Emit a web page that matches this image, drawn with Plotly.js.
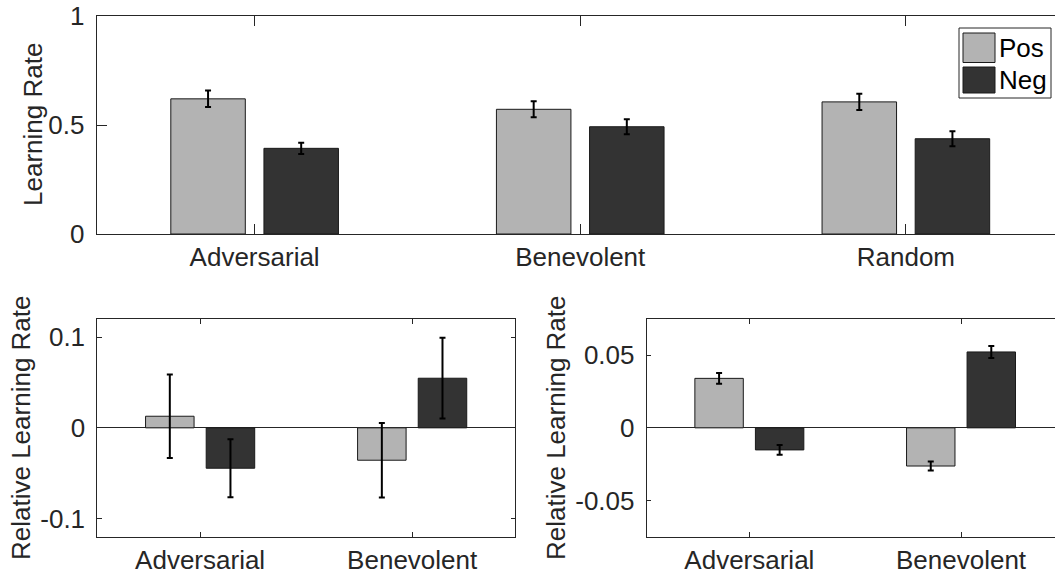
<!DOCTYPE html>
<html>
<head>
<meta charset="utf-8">
<script src="https://cdn.plot.ly/plotly-3.0.1.min.js"></script>
<style>
  html, body { margin: 0; padding: 0; background: #fff; }
  #chart { width: 1055px; height: 577px; }
</style>
</head>
<body>
<div id="chart"></div>
<script>
// Learning rates per environment (top panel)
const categoriesTop = ['Adversarial', 'Benevolent', 'Random'];
const posTop = [0.620, 0.572, 0.606];
const posTopErr = [0.038, 0.037, 0.037];
const negTop = [0.393, 0.492, 0.437];
const negTopErr = [0.026, 0.034, 0.034];

// Relative learning rates (bottom panels)
const categoriesBottom = ['Adversarial', 'Benevolent'];
const posLeft = [0.0128, -0.0357];
const posLeftErr = [0.046, 0.041];
const negLeft = [-0.0445, 0.0547];
const negLeftErr = [0.032, 0.0445];

const posRight = [0.0341, -0.0263];
const posRightErr = [0.0037, 0.0031];
const negRight = [-0.0152, 0.0523];
const negRightErr = [0.0033, 0.0041];

const seriesNames = ['Pos', 'Neg'];

const topYTicks = [0, 0.5, 1];
const topYLabels = ['0', '0.5', '1'];
const leftYTicks = [-0.1, 0, 0.1];
const leftYLabels = ['-0.1', '0', '0.1'];
const rightYTicks = [-0.05, 0, 0.05];
const rightYLabels = ['-0.05', '0', '0.05'];

const yTitleTop = 'Learning Rate';
const yTitleBottom = 'Relative Learning Rate';

// ---- styling ----
const W = 1055, H = 577;
const px = v => v / W;
const py = v => 1 - v / H;
const FONT = 'Liberation Sans, Arial, Helvetica, sans-serif';
const INK = '#262626';
const POS_COLOR = '#b3b3b3';
const NEG_COLOR = '#333333';

function barTrace(x, y, err, color, name, xa, ya) {
  return {
    type: 'bar', x: x, y: y, name: name,
    xaxis: xa, yaxis: ya, showlegend: false,
    marker: { color: color, line: { color: '#1a1a1a', width: 1 } },
    error_y: { type: 'data', array: err, visible: true, color: '#000', thickness: 2, width: 3 },
    hoverinfo: 'x+y'
  };
}

const data = [
  barTrace(categoriesTop, posTop, posTopErr, POS_COLOR, seriesNames[0], 'x', 'y'),
  barTrace(categoriesTop, negTop, negTopErr, NEG_COLOR, seriesNames[1], 'x', 'y'),
  barTrace(categoriesBottom, posLeft, posLeftErr, POS_COLOR, seriesNames[0], 'x2', 'y2'),
  barTrace(categoriesBottom, negLeft, negLeftErr, NEG_COLOR, seriesNames[1], 'x2', 'y2'),
  barTrace(categoriesBottom, posRight, posRightErr, POS_COLOR, seriesNames[0], 'x3', 'y3'),
  barTrace(categoriesBottom, negRight, negRightErr, NEG_COLOR, seriesNames[1], 'x3', 'y3')
];

function xAxis(domain, range, anchor, ticklen) {
  return {
    domain: domain, range: range, anchor: anchor, type: 'category',
    showline: true, linecolor: INK, linewidth: 1, mirror: 'ticks',
    ticks: 'inside', ticklen: ticklen, tickcolor: INK, tickwidth: 1,
    showgrid: false, zeroline: false, fixedrange: true,
    tickfont: { family: FONT, size: 26, color: INK }
  };
}
function yAxis(domain, range, anchor, ticklen, vals, labels, mirror, zero) {
  return {
    domain: domain, range: range, anchor: anchor,
    showline: true, linecolor: INK, linewidth: 1, mirror: mirror,
    ticks: 'inside', ticklen: ticklen, tickcolor: INK, tickwidth: 1,
    tickmode: 'array', tickvals: vals, ticktext: labels,
    showgrid: false, zeroline: zero, zerolinecolor: INK, zerolinewidth: 1,
    fixedrange: true, ticklabelstandoff: 6,
    tickfont: { family: FONT, size: 26, color: INK }
  };
}

const layout = {
  width: W, height: H,
  margin: { l: 0, r: 0, t: 0, b: 0 },
  paper_bgcolor: '#fff', plot_bgcolor: '#fff',
  barmode: 'group', bargap: 0.428, bargroupgap: 0.2,
  font: { family: FONT, size: 26, color: INK },
  xaxis: xAxis([px(96.7), 1], [-0.485, 2.458], 'y', 10),
  yaxis: yAxis([py(234), py(16)], [0, 1], 'x', 10, topYTicks, topYLabels, false, false),
  xaxis2: xAxis([px(97.3), px(515)], [-0.485, 1.485], 'y2', 4.5),
  yaxis2: yAxis([py(536.7), py(319)], [-0.12, 0.12], 'x2', 4.5, leftYTicks, leftYLabels, 'ticks', true),
  xaxis3: xAxis([px(646.7), 1], [-0.485, 1.444], 'y3', 4.5),
  yaxis3: yAxis([py(536.7), py(319)], [-0.075, 0.075], 'x3', 4.5, rightYTicks, rightYLabels, false, true),
  shapes: [
    // legend box and swatches
    { type: 'rect', xref: 'paper', yref: 'paper', x0: px(959), x1: px(1051), y0: py(98), y1: py(28),
      line: { color: INK, width: 1 }, fillcolor: '#fff' },
    { type: 'rect', xref: 'paper', yref: 'paper', x0: px(963), x1: px(995), y0: py(62.5), y1: py(33),
      line: { color: '#1a1a1a', width: 1 }, fillcolor: POS_COLOR },
    { type: 'rect', xref: 'paper', yref: 'paper', x0: px(963), x1: px(995), y0: py(93), y1: py(67),
      line: { color: '#1a1a1a', width: 1 }, fillcolor: NEG_COLOR }
  ],
  annotations: [
    { text: yTitleTop, xref: 'paper', yref: 'paper', x: px(33), y: py(125), textangle: -90,
      xanchor: 'center', yanchor: 'middle', showarrow: false, font: { family: FONT, size: 26, color: INK } },
    { text: yTitleBottom, xref: 'paper', yref: 'paper', x: px(21), y: py(428), textangle: -90,
      xanchor: 'center', yanchor: 'middle', showarrow: false, font: { family: FONT, size: 26, color: INK } },
    { text: yTitleBottom, xref: 'paper', yref: 'paper', x: px(556), y: py(428), textangle: -90,
      xanchor: 'center', yanchor: 'middle', showarrow: false, font: { family: FONT, size: 26, color: INK } },
    { text: seriesNames[0], xref: 'paper', yref: 'paper', x: px(997), y: py(48), xanchor: 'left', yanchor: 'middle',
      showarrow: false, font: { family: FONT, size: 26, color: '#000' } },
    { text: seriesNames[1], xref: 'paper', yref: 'paper', x: px(997), y: py(80), xanchor: 'left', yanchor: 'middle',
      showarrow: false, font: { family: FONT, size: 26, color: '#000' } }
  ]
};

Plotly.newPlot('chart', data, layout, { staticPlot: true, displayModeBar: false });
</script>
</body>
</html>
